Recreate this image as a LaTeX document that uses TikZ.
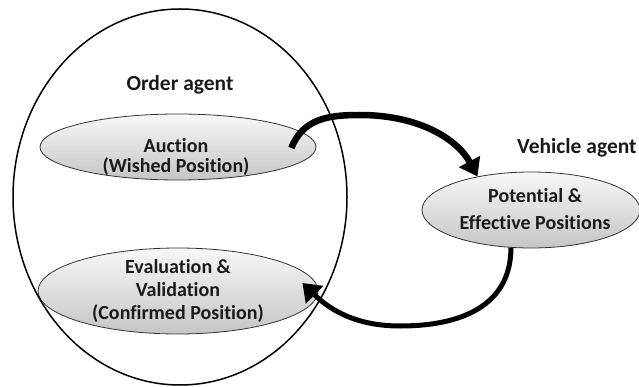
\documentclass[tikz,border=0pt]{standalone}
\usepackage{fontspec}
\setmainfont{Carlito}[Ligatures={NoCommon}]
\usetikzlibrary{shapes.geometric,arrows.meta,calc}
\definecolor{txt}{HTML}{1A1A1A}
\begin{document}
\begin{tikzpicture}[x=1pt,y=-1pt,
  inner/.style={ellipse,draw=black!80,line width=0.8pt,top color=gray!6,bottom color=gray!45,inner sep=0pt},
  label/.style={align=center,text=txt,inner sep=0pt},
  title/.style={text=txt,font=\bfseries\fontsize{21.5}{24}\selectfont,inner sep=0pt},
  flow/.style={line width=6.5pt,black,-{Triangle[length=17pt,width=23pt]}}]
\useasboundingbox (0,0) rectangle (639,387);
\node[inner,minimum width=276pt,minimum height=66pt] (auction) at (178,147) {};
\node[inner,minimum width=280pt,minimum height=86pt] (eval) at (178,291) {};
\node[inner,minimum width=218pt,minimum height=76pt] (potential) at (531,210) {};
\node[label,font=\bfseries\fontsize{20}{19.5}\selectfont] (auctiont) at (176,157) {Auction\\(Wished Position)};
\node[label,font=\bfseries\fontsize{20}{23}\selectfont] (evalt) at (178,291) {Evaluation \&\\Validation\\(Confirmed Position)};
\node[label,font=\bfseries\fontsize{20}{27}\selectfont] (potentialt) at (535,209) {Potential \&\\Effective Positions};
\node[ellipse,draw=black,line width=1.5pt,minimum width=334pt,minimum height=376pt,inner sep=0pt] (order) at (180,197) {};
\node[title] (ordert) at (180,85) {Order agent};
\node[title,anchor=west] (vehiclet) at (517,148) {Vehicle agent};
\draw[flow] ($(auction.east)+(-25,1)$) .. controls (303,118) and (330,115) .. (360,115)
  .. controls (420,115) and (458,140) .. (potential.148);
\draw[flow,line width=5pt,-{Triangle[length=17pt,width=24pt]}] (potential.242) .. controls (511,300) and (470,326) .. (400,326)
  .. controls (350,326) and (325,305) .. ($(eval.east)+(-16,-8)$);
\end{tikzpicture}
\end{document}
